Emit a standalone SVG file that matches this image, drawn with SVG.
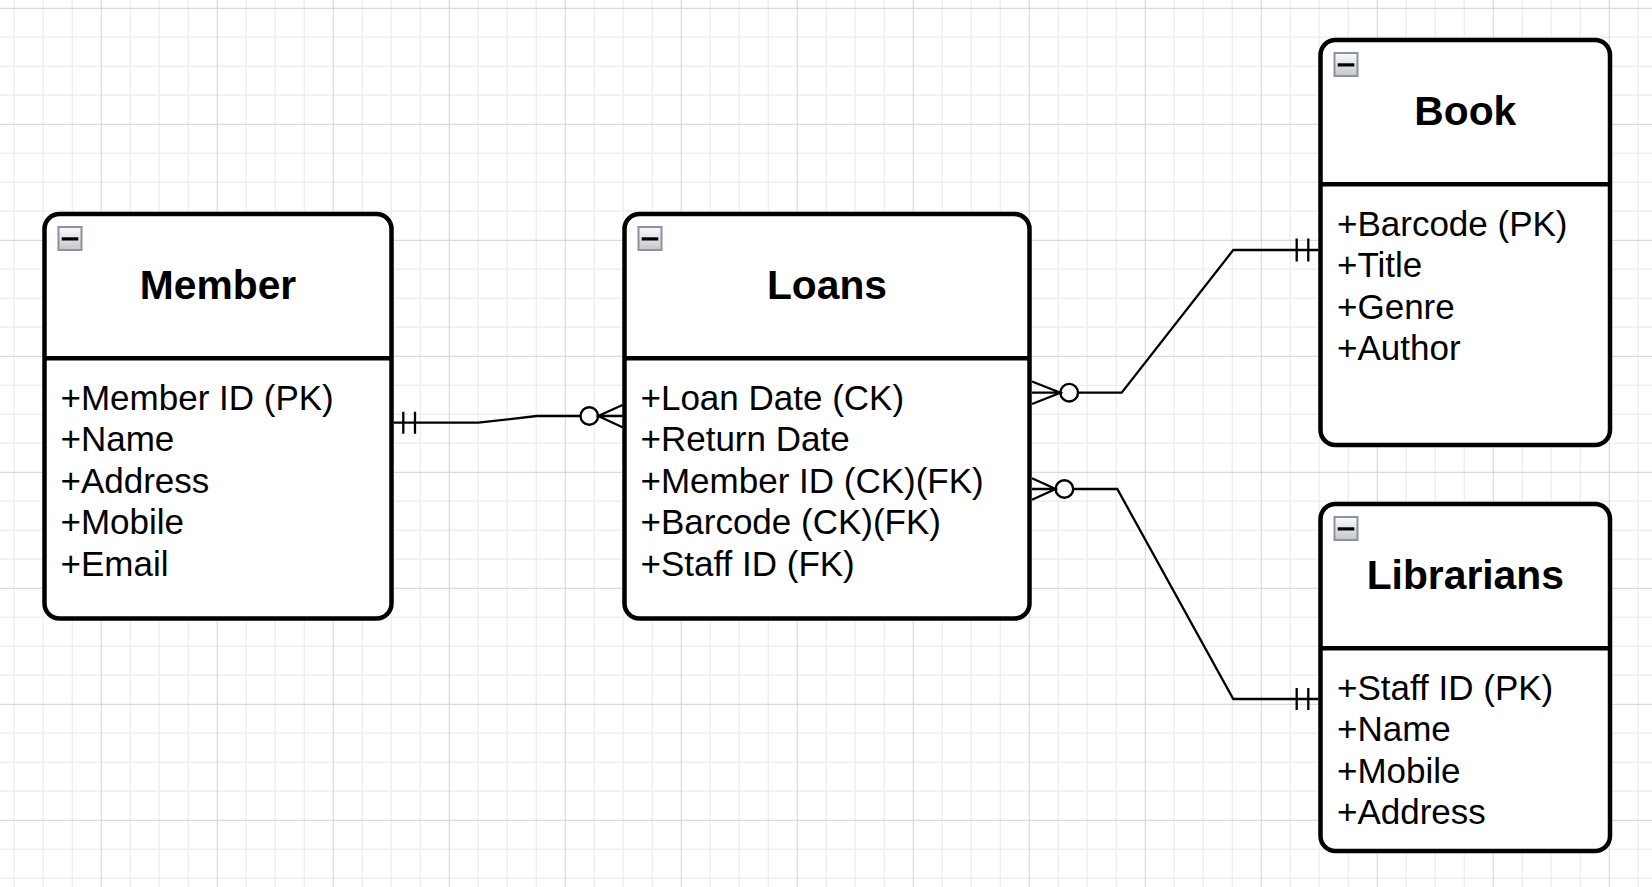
<svg xmlns="http://www.w3.org/2000/svg" xmlns:xlink="http://www.w3.org/1999/xlink" width="1652" height="887" viewBox="0 0 1652 887">
<style>
.minor{stroke:#efefef;stroke-width:1.5;fill:none}
.major{stroke:#d2d2d2;stroke-width:1;fill:none}
.box{fill:#ffffff;stroke:#000000;stroke-width:4.5}
.div{stroke:#000000;stroke-width:4.5}
.title{font-family:"Liberation Sans",Arial,sans-serif;font-weight:bold;font-size:40.8px;fill:#000;text-anchor:middle}
.attr{font-family:"Liberation Sans",Arial,sans-serif;font-size:35px;fill:#000}
.edge{stroke:#000;stroke-width:2.3;fill:none}
.circ{stroke:#000;stroke-width:2.4;fill:#fff}
</style>
<defs>
<linearGradient id="btn" x1="0" y1="0" x2="0" y2="1">
<stop offset="0" stop-color="#fbfbfb"/>
<stop offset="1" stop-color="#c6c6c6"/>
</linearGradient>
<g id="minus">
<rect x="1" y="1" width="23" height="23" fill="url(#btn)" stroke="#8a93a4" stroke-width="2"/>
<rect x="4.2" y="11.3" width="16.6" height="3.2" fill="#000"/>
</g>
</defs>
<rect x="0" y="0" width="1652" height="887" fill="#ffffff"/>
<g id="grid">
<path class="minor" d="M14.3 0V887M43.3 0V887M72.3 0V887M130.3 0V887M159.3 0V887M188.3 0V887M246.3 0V887M275.3 0V887M304.3 0V887M362.3 0V887M391.3 0V887M420.3 0V887M478.3 0V887M507.3 0V887M536.3 0V887M594.3 0V887M623.3 0V887M652.3 0V887M710.3 0V887M739.3 0V887M768.3 0V887M826.3 0V887M855.3 0V887M884.3 0V887M942.3 0V887M971.3 0V887M1000.3 0V887M1058.3 0V887M1087.3 0V887M1116.3 0V887M1174.3 0V887M1203.3 0V887M1232.3 0V887M1290.3 0V887M1319.3 0V887M1348.3 0V887M1406.3 0V887M1435.3 0V887M1464.3 0V887M1522.3 0V887M1551.3 0V887M1580.3 0V887M1638.3 0V887M0 37.3H1652M0 66.3H1652M0 95.3H1652M0 153.3H1652M0 182.3H1652M0 211.3H1652M0 269.3H1652M0 298.3H1652M0 327.3H1652M0 385.3H1652M0 414.3H1652M0 443.3H1652M0 501.3H1652M0 530.3H1652M0 559.3H1652M0 617.3H1652M0 646.3H1652M0 675.3H1652M0 733.3H1652M0 762.3H1652M0 791.3H1652M0 849.3H1652M0 878.3H1652"/>
<path class="major" d="M101.3 0V887M217.3 0V887M333.3 0V887M449.3 0V887M565.3 0V887M681.3 0V887M797.3 0V887M913.3 0V887M1029.3 0V887M1145.3 0V887M1261.3 0V887M1377.3 0V887M1493.3 0V887M1609.3 0V887M0 8.3H1652M0 124.3H1652M0 240.3H1652M0 356.3H1652M0 472.3H1652M0 588.3H1652M0 704.3H1652M0 820.3H1652"/>
</g>
<g id="connectors">
<g id="member-loans">
<path class="edge" d="M393.5 422.7H478.3L536.7 416H580.5"/>
<path class="edge" d="M403.3 411.7V433.7M415 411.7V433.7"/>
<circle class="circ" cx="589.3" cy="416" r="8.8"/>
<path class="edge" d="M622.5 405L598.2 416L622.5 427.3M598.2 416H622.5"/>
</g>
<g id="loans-book">
<path class="edge" d="M1078 392.7H1121.7L1233.3 250H1318.5"/>
<path class="edge" d="M1296.7 238.5V261.5M1308.3 238.5V261.5"/>
<circle class="circ" cx="1069.2" cy="392.7" r="8.8"/>
<path class="edge" d="M1032 381.5L1060.4 392.7L1032 404M1032 392.7H1060.4"/>
</g>
<g id="loans-librarians">
<path class="edge" d="M1073.2 489H1117.3L1233.3 699H1318.5"/>
<path class="edge" d="M1296.7 688V710M1308.3 688V710"/>
<circle class="circ" cx="1064.4" cy="489" r="8.8"/>
<path class="edge" d="M1032 478.3L1055.6 489L1032 499.7M1032 489H1055.6"/>
</g>
</g>
<g id="member">
<rect class="box" x="44.5" y="214" width="347" height="404.5" rx="15" ry="15"/>
<line class="div" x1="44.5" y1="358.3" x2="391.5" y2="358.3"/>
<use xlink:href="#minus" x="57.5" y="226"/>
<text class="title" x="218" y="299.3">Member</text>
<text class="attr" x="60.5" y="410">+Member ID (PK)</text>
<text class="attr" x="60.5" y="451.4">+Name</text>
<text class="attr" x="60.5" y="492.8">+Address</text>
<text class="attr" x="60.5" y="534.2">+Mobile</text>
<text class="attr" x="60.5" y="575.6">+Email</text>
</g>
<g id="loans">
<rect class="box" x="624.5" y="214" width="405" height="404.5" rx="15" ry="15"/>
<line class="div" x1="624.5" y1="358.3" x2="1029.5" y2="358.3"/>
<use xlink:href="#minus" x="637.5" y="226"/>
<text class="title" x="827" y="299.3">Loans</text>
<text class="attr" x="640.5" y="410">+Loan Date (CK)</text>
<text class="attr" x="640.5" y="451.4">+Return Date</text>
<text class="attr" x="640.5" y="492.8">+Member ID (CK)(FK)</text>
<text class="attr" x="640.5" y="534.2">+Barcode (CK)(FK)</text>
<text class="attr" x="640.5" y="575.6">+Staff ID (FK)</text>
</g>
<g id="book">
<rect class="box" x="1320.5" y="40" width="289.5" height="405" rx="15" ry="15"/>
<line class="div" x1="1320.5" y1="184.3" x2="1610" y2="184.3"/>
<use xlink:href="#minus" x="1333.5" y="52"/>
<text class="title" x="1465.3" y="125.3">Book</text>
<text class="attr" x="1337" y="236">+Barcode (PK)</text>
<text class="attr" x="1337" y="277.4">+Title</text>
<text class="attr" x="1337" y="318.8">+Genre</text>
<text class="attr" x="1337" y="359.5">+Author</text>
</g>
<g id="librarians">
<rect class="box" x="1320.5" y="504" width="289.5" height="347" rx="15" ry="15"/>
<line class="div" x1="1320.5" y1="648.3" x2="1610" y2="648.3"/>
<use xlink:href="#minus" x="1333.5" y="516"/>
<text class="title" x="1465.3" y="589.3">Librarians</text>
<text class="attr" x="1337" y="700">+Staff ID (PK)</text>
<text class="attr" x="1337" y="741.4">+Name</text>
<text class="attr" x="1337" y="782.8">+Mobile</text>
<text class="attr" x="1337" y="824">+Address</text>
</g>
</svg>
